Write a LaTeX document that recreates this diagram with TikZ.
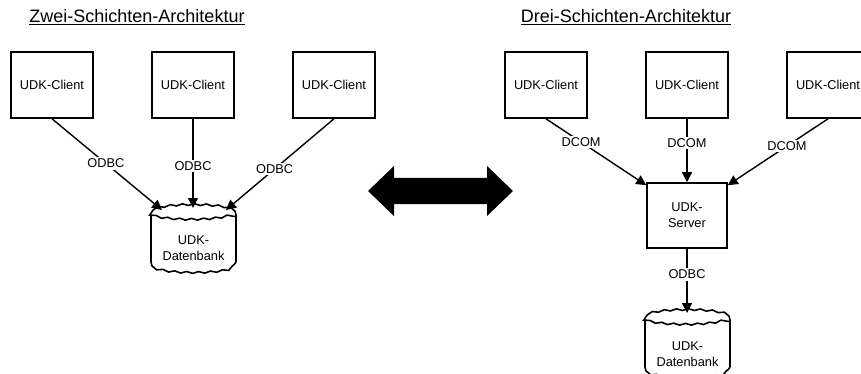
\documentclass[tikz,border=0pt]{standalone}
\usepackage{fontspec}
\setmainfont{Liberation Sans}
\usetikzlibrary{arrows.meta,decorations.pathmorphing,calc}
\begin{document}
\begin{tikzpicture}[x=1pt,y=-1pt,
  box/.style={draw, line width=1.6pt, minimum width=82pt, minimum height=66pt, inner sep=0pt, font=\fontsize{12.8}{16}\selectfont, align=center},
  dbtext/.style={font=\fontsize{12.8}{16}\selectfont, align=center, inner sep=0pt},
  conn/.style={line width=1.4pt, -{Triangle[length=10pt,width=10pt]}},
  lbl/.style={fill=white, inner sep=1.5pt, font=\fontsize{12.8}{15}\selectfont},
  ttl/.style={font=\fontsize{18}{22}\selectfont, inner sep=0pt},
  wavy/.style={line width=1.6pt, decorate, decoration={snake, amplitude=0.9pt, segment length=12pt}},
  dbside/.style={line width=1.6pt},
]
\useasboundingbox (0,0) rectangle (861,374);

% titles
\node[ttl, anchor=base] (t1) at (137,23) {\underline{Zwei-Schichten-Architektur}};
\node[ttl, anchor=base] (t2) at (626,23) {\underline{Drei-Schichten-Architektur}};

% left: two-tier
\node[box] (c1) at (52,85) {UDK-Client};
\node[box] (c2) at (193,85) {UDK-Client};
\node[box] (c3) at (334,85) {UDK-Client};

\draw[wavy] (193.5,215) ellipse [x radius=42.5pt, y radius=7pt];
\draw[dbside] (151,215) -- (151,262);
\draw[dbside] (236,215) -- (236,262);
\draw[wavy] (151,262) arc[start angle=180, end angle=360, x radius=42.5pt, y radius=7pt];
\node[dbtext] (db1) at (193.5,248) {UDK-\\Datenbank};
\coordinate (db1a) at (162,210);
\coordinate (db1b) at (193,208);
\coordinate (db1c) at (226,210);

\draw[conn] (c1.south) -- node[lbl, pos=0.49] {ODBC} (db1a);
\draw[conn] (c2.south) -- node[lbl, pos=0.53] {ODBC} (db1b);
\draw[conn] (c3.south) -- node[lbl, pos=0.55] {ODBC} (db1c);

% middle double arrow
\fill (368,191) -- (394,166) -- (394,178) -- (487,178) -- (487,166) -- (513,191)
      -- (487,216) -- (487,204) -- (394,204) -- (394,216) -- cycle;

% right: three-tier
\node[box] (r1) at (546,85) {UDK-Client};
\node[box] (r2) at (687,85) {UDK-Client};
\node[box] (r3) at (828,85) {UDK-Client};
\node[box, minimum width=80pt, minimum height=65pt] (s) at (687,215.5) {UDK-\\Server};

\draw[wavy] (687.5,320) ellipse [x radius=42.5pt, y radius=7pt];
\draw[dbside] (645,320) -- (645,367);
\draw[dbside] (730,320) -- (730,367);
\draw[wavy] (645,367) arc[start angle=180, end angle=360, x radius=42.5pt, y radius=7pt];
\node[dbtext] (db2) at (687.5,354) {UDK-\\Datenbank};
\coordinate (db2a) at (687,313);

\draw[conn] (r1.south) -- node[lbl, pos=0.35] {DCOM} ($(s.north west)+(0,3)$);
\draw[conn] (r2.south) -- node[lbl, pos=0.38] {DCOM} (s.north);
\draw[conn] (r3.south) -- node[lbl, pos=0.41] {DCOM} ($(s.north east)+(0,3)$);
\draw[conn] (s.south) -- node[lbl, pos=0.40] {ODBC} (db2a);
\end{tikzpicture}
\end{document}
